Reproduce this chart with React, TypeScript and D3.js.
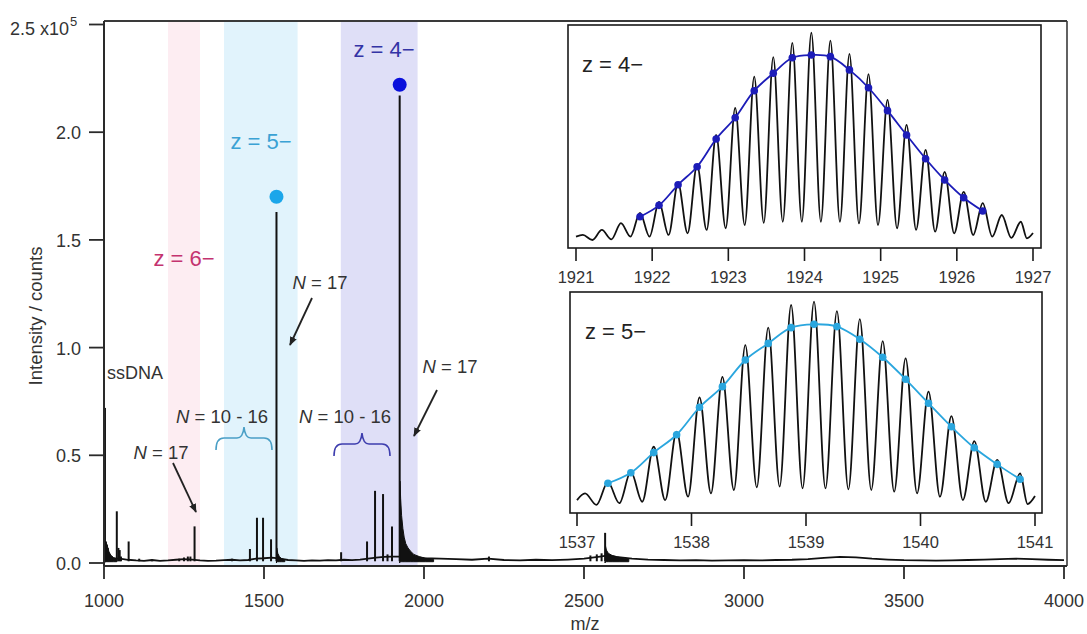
import React from "react";
import * as d3 from "d3";

const W = 1087;
const H = 634;
const FONT = "'Liberation Sans', Arial, Helvetica, sans-serif";

// ---------- main spectrum data (intensity in units of 1e5 counts) ----------
const mainXTicks = [1000, 1500, 2000, 2500, 3000, 3500, 4000];
const mainYTicks = [0, 0.5, 1.0, 1.5, 2.0];
const mainYTickLabels = ["0.0", "0.5", "1.0", "1.5", "2.0"];
const mainYTopTick = 2.5;

const bandRanges: [number, number][] = [
  [1200, 1300],
  [1375, 1605],
  [1740, 1980],
];

const baseline: [number, number][] = [
  [1000, 0.03], [1025, 0.02], [1050, 0.02], [1075, 0.015], [1100, 0.012], [1125, 0.01],
  [1150, 0.014], [1175, 0.01], [1200, 0.012], [1225, 0.015], [1250, 0.018], [1275, 0.016],
  [1300, 0.012], [1325, 0.01], [1350, 0.011], [1375, 0.013], [1400, 0.015], [1425, 0.012],
  [1450, 0.014], [1475, 0.02], [1500, 0.022], [1525, 0.025], [1550, 0.02], [1575, 0.014],
  [1600, 0.012], [1625, 0.01], [1650, 0.012], [1675, 0.011], [1700, 0.013], [1725, 0.012],
  [1750, 0.015], [1775, 0.013], [1800, 0.016], [1825, 0.02], [1850, 0.025], [1875, 0.028],
  [1900, 0.03], [1950, 0.03], [1975, 0.025], [2000, 0.022], [2050, 0.02], [2100, 0.018],
  [2150, 0.015], [2200, 0.02], [2250, 0.014], [2300, 0.012], [2350, 0.015], [2400, 0.013],
  [2450, 0.016], [2500, 0.02], [2525, 0.025], [2550, 0.03], [2575, 0.035], [2600, 0.028],
  [2650, 0.02], [2700, 0.016], [2750, 0.014], [2800, 0.012], [2850, 0.013], [2900, 0.011],
  [2950, 0.012], [3000, 0.013], [3050, 0.012], [3100, 0.014], [3150, 0.015], [3200, 0.018],
  [3250, 0.024], [3300, 0.028], [3350, 0.026], [3400, 0.02], [3450, 0.016], [3500, 0.013],
  [3550, 0.012], [3600, 0.011], [3650, 0.012], [3700, 0.014], [3750, 0.016], [3800, 0.018],
  [3850, 0.02], [3900, 0.018], [3950, 0.015], [4000, 0.013],
];

const mainPeaks: [number, number][] = [
  [1003, 0.72], [1006, 0.1], [1009, 0.085], [1012, 0.07], [1015, 0.05], [1019, 0.035],
  [1024, 0.03], [1040, 0.24], [1045, 0.07], [1049, 0.06], [1053, 0.03], [1077, 0.1],
  [1110, 0.02], [1150, 0.015], [1235, 0.02], [1250, 0.025], [1262, 0.03], [1270, 0.03],
  [1283, 0.17], [1400, 0.02], [1456, 0.065], [1478, 0.21], [1497, 0.21], [1522, 0.11],
  [1539, 1.63], [1741, 0.05], [1822, 0.1], [1847, 0.335], [1872, 0.32], [1886, 0.04],
  [1900, 0.17], [1924, 2.17], [2203, 0.03], [2520, 0.035], [2540, 0.04], [2555, 0.045],
  [2566, 0.14],
];

const tailSsDNA: [number, number][] = [
  [1002, 0.0], [1004, 0.1], [1008, 0.09], [1012, 0.07], [1016, 0.05], [1022, 0.035], [1030, 0.025], [1040, 0.02],
];
const tailZ5: [number, number][] = [
  [1539, 0.0], [1540, 0.07], [1543, 0.045], [1548, 0.03], [1555, 0.02], [1565, 0.015],
];
const tailZ4: [number, number][] = [
  [1924, 0.0], [1925, 0.38], [1927, 0.3], [1930, 0.22], [1934, 0.16], [1938, 0.12], [1943, 0.09],
  [1950, 0.07], [1958, 0.055], [1968, 0.04], [1985, 0.03], [2005, 0.022], [2030, 0.016],
];
const tail2566: [number, number][] = [
  [2566, 0.0], [2567, 0.08], [2570, 0.06], [2576, 0.045], [2588, 0.035], [2610, 0.026], [2640, 0.02],
];

const apexDots: [number, number][] = [
  [1539, 1.7],
  [1924, 2.22],
];

// ---------- inset z = 4- ----------
const inset1Ticks = [1921, 1922, 1923, 1924, 1925, 1926, 1927];
const inset1PeakMz = [
  1921.09, 1921.34, 1921.59, 1921.84, 1922.09, 1922.34, 1922.59, 1922.84, 1923.09, 1923.34,
  1923.59, 1923.84, 1924.09, 1924.34, 1924.59, 1924.84, 1925.09, 1925.34, 1925.59, 1925.84,
  1926.09, 1926.34, 1926.59, 1926.84,
];
const inset1Tips = [
  0.024, 0.048, 0.08, 0.129, 0.181, 0.271, 0.357, 0.5, 0.629, 0.778, 0.871, 0.939, 0.987,
  0.949, 0.886, 0.79, 0.667, 0.548, 0.429, 0.324, 0.229, 0.176, 0.119, 0.087,
];
const inset1Valleys = [
  0.0, 0.003, 0.016, 0.016, 0.024, 0.032, 0.048, 0.056, 0.071, 0.082, 0.087, 0.087, 0.087,
  0.087, 0.079, 0.071, 0.056, 0.048, 0.04, 0.032, 0.024, 0.016, 0.01, 0.008,
];
const inset1Start: [number, number] = [1921.0, 0.016];
const inset1End: [number, number] = [1927.0, 0.033];
const inset1DotMz = [
  1921.84, 1922.09, 1922.34, 1922.59, 1922.84, 1923.09, 1923.34, 1923.59, 1923.84, 1924.09,
  1924.34, 1924.59, 1924.84, 1925.09, 1925.34, 1925.59, 1925.84, 1926.09, 1926.34,
];
const inset1Dots = [
  0.111, 0.165, 0.263, 0.349, 0.481, 0.582, 0.711, 0.794, 0.868, 0.881, 0.873, 0.81, 0.725,
  0.616, 0.5, 0.387, 0.286, 0.201, 0.138,
];

// ---------- inset z = 5- ----------
const inset2Ticks = [1537, 1538, 1539, 1540, 1541];
const inset2PeakMz = [
  1537.07, 1537.27, 1537.47, 1537.67, 1537.87, 1538.07, 1538.27, 1538.47, 1538.67, 1538.87,
  1539.07, 1539.27, 1539.47, 1539.67, 1539.87, 1540.07, 1540.27, 1540.47, 1540.67, 1540.87,
];
const inset2Tips = [
  0.065, 0.118, 0.168, 0.287, 0.359, 0.522, 0.62, 0.771, 0.854, 0.962, 0.978, 0.933, 0.895,
  0.79, 0.708, 0.549, 0.433, 0.314, 0.224, 0.16,
];
const inset2Valleys = [
  0.01, 0.018, 0.025, 0.033, 0.049, 0.065, 0.081, 0.094, 0.097, 0.089, 0.089, 0.084, 0.081,
  0.073, 0.065, 0.049, 0.033, 0.025, 0.018, 0.014,
];
const inset2Start: [number, number] = [1537.0, 0.033];
const inset2End: [number, number] = [1541.0, 0.052];
const inset2DotMz = [
  1537.27, 1537.47, 1537.67, 1537.87, 1538.07, 1538.27, 1538.47, 1538.67, 1538.87, 1539.07,
  1539.27, 1539.47, 1539.67, 1539.87, 1540.07, 1540.27, 1540.47, 1540.67, 1540.87,
];
const inset2Dots = [
  0.113, 0.163, 0.259, 0.344, 0.475, 0.573, 0.7, 0.779, 0.854, 0.87, 0.859, 0.799, 0.713,
  0.608, 0.494, 0.382, 0.282, 0.203, 0.132,
];

type InsetProps = {
  frame: { x0: number; x1: number; y0: number; y1: number };
  xDomain: [number, number];
  xRange: [number, number];
  yRange: [number, number];
  ticks: number[];
  peakMz: number[];
  tips: number[];
  valleys: number[];
  start: [number, number];
  end: [number, number];
  dotMz: number[];
  dots: number[];
  color: string;
  label: string;
  labelPos: [number, number];
};

function Inset(p: InsetProps) {
  const x = d3.scaleLinear().domain(p.xDomain).range(p.xRange);
  const y = d3.scaleLinear().domain([0, 1]).range(p.yRange);
  const pts: [number, number][] = [p.start];
  p.peakMz.forEach((m, i) => {
    pts.push([m, p.tips[i]]);
    const next = i < p.peakMz.length - 1 ? p.peakMz[i + 1] : p.end[0];
    pts.push([(m + next) / 2, p.valleys[i]]);
  });
  pts.push(p.end);
  const trace = d3
    .line<[number, number]>()
    .x((d) => x(d[0]))
    .y((d) => y(d[1]))
    .curve(d3.curveMonotoneX)(pts);
  const dotPts: [number, number][] = p.dotMz.map((m, i) => [m, p.dots[i]]);
  const fit = d3
    .line<[number, number]>()
    .x((d) => x(d[0]))
    .y((d) => y(d[1]))
    .curve(d3.curveCatmullRom.alpha(0.5))(dotPts);
  const f = p.frame;
  return (
    <g>
      <rect x={f.x0} y={f.y0} width={f.x1 - f.x0} height={f.y1 - f.y0} fill="#fff" stroke="#1a1a1a" strokeWidth={1.6} />
      <path d={trace || ""} fill="none" stroke="#111" strokeWidth={1.8} />
      <path d={fit || ""} fill="none" stroke={p.color} strokeWidth={1.8} />
      {dotPts.map((d, i) => (
        <circle key={i} cx={x(d[0])} cy={y(d[1])} r={3.8} fill={p.color} />
      ))}
      {p.ticks.map((t) => (
        <g key={t}>
          <line x1={x(t)} x2={x(t)} y1={f.y1} y2={f.y1 + 13} stroke="#1a1a1a" strokeWidth={1.6} />
          <text x={x(t)} y={f.y1 + 35} textAnchor="middle" fontSize={16.5} fill="#333" fontFamily={FONT}>
            {t}
          </text>
        </g>
      ))}
      <text x={p.labelPos[0]} y={p.labelPos[1]} fontSize={22} fill="#222" fontFamily={FONT}>
        {p.label}
      </text>
    </g>
  );
}

export default function App() {
  const x = d3.scaleLinear().domain([1000, 4000]).range([104, 1064]);
  const y = d3.scaleLinear().domain([0, 2.5]).range([563, 24.5]);
  const left = 104;
  const right = 1067;
  const top = 21;
  const bottom = 566;

  const bandColors = ["#fdedf2", "#e1f3fc", "#dfdff7"];

  const baseLine = d3
    .line<[number, number]>()
    .x((d) => x(d[0]))
    .y((d) => y(d[1]))(baseline);
  const tailArea = d3
    .area<[number, number]>()
    .x((d) => x(d[0]))
    .y0(y(0.006))
    .y1((d) => y(d[1]));

  const textC = "#333";

  return (
    <svg
      width={W}
      height={H}
      viewBox={`0 0 ${W} ${H}`}
      style={{ position: "absolute", left: 0, top: 0, display: "block", background: "#fff" }}
    >
      <defs>
        <marker id="arr" viewBox="0 0 10 10" refX="9" refY="5" markerWidth="9" markerHeight="9" markerUnits="userSpaceOnUse" orient="auto">
          <path d="M0,1 L10,5 L0,9 z" fill="#222" />
        </marker>
      </defs>
      <rect x={0} y={0} width={W} height={H} fill="#fff" />

      {/* shaded charge-state bands */}
      {bandRanges.map((b, i) => (
        <rect key={i} x={x(b[0])} y={top} width={x(b[1]) - x(b[0])} height={bottom - top} fill={bandColors[i]} />
      ))}

      {/* spectrum */}
      <path d={baseLine || ""} fill="none" stroke="#111" strokeWidth={1.8} />
      {[tailSsDNA, tailZ5, tailZ4, tail2566].map((t, i) => (
        <path key={i} d={tailArea(t) || ""} fill="#111" stroke="#111" strokeWidth={1} />
      ))}
      {mainPeaks.map((p, i) => (
        <line key={i} x1={x(p[0])} x2={x(p[0])} y1={y(0.008)} y2={y(p[1])} stroke="#111" strokeWidth={2} />
      ))}
      <circle cx={x(apexDots[0][0])} cy={y(apexDots[0][1])} r={7} fill="#1ba6ea" />
      <circle cx={x(apexDots[1][0])} cy={y(apexDots[1][1])} r={7} fill="#0a10dc" />

      {/* frame and axes */}
      <line x1={left} x2={right} y1={top} y2={top} stroke="#3a3a3a" strokeWidth={2} />
      <line x1={right} x2={right} y1={top} y2={bottom} stroke="#3a3a3a" strokeWidth={1.6} />
      <line x1={left} x2={right} y1={bottom} y2={bottom} stroke="#2a2a2a" strokeWidth={1.8} />
      <line x1={left} x2={left} y1={top} y2={bottom} stroke="#2a2a2a" strokeWidth={2} />

      {mainYTicks.map((t, i) => (
        <g key={t}>
          <line x1={89} x2={left} y1={y(t)} y2={y(t)} stroke="#2a2a2a" strokeWidth={1.8} />
          <text x={81} y={y(t) + 7} textAnchor="end" fontSize={18} fill={textC} fontFamily={FONT}>
            {mainYTickLabels[i]}
          </text>
        </g>
      ))}
      <line x1={89} x2={left} y1={y(mainYTopTick)} y2={y(mainYTopTick)} stroke="#2a2a2a" strokeWidth={1.8} />
      <text x={10} y={35} fontSize={18} fill={textC} fontFamily={FONT}>
        2.5 x10
      </text>
      <text x={70} y={26} fontSize={13} fill={textC} fontFamily={FONT}>
        5
      </text>

      {mainXTicks.map((t) => (
        <g key={t}>
          <line x1={x(t)} x2={x(t)} y1={bottom} y2={bottom + 13} stroke="#2a2a2a" strokeWidth={1.8} />
          <text x={x(t)} y={607} textAnchor="middle" fontSize={18} fill={textC} fontFamily={FONT}>
            {t}
          </text>
        </g>
      ))}
      <text x={585} y={630} textAnchor="middle" fontSize={18} fill={textC} fontFamily={FONT}>
        m/z
      </text>
      <text transform="translate(42,316) rotate(-90)" textAnchor="middle" fontSize={18.5} fill={textC} fontFamily={FONT}>
        Intensity / counts
      </text>

      {/* charge-state labels */}
      <text x={184} y={266} textAnchor="middle" fontSize={22} fill="#c4336f" fontFamily={FONT}>
        z = 6−
      </text>
      <text x={261} y={149} textAnchor="middle" fontSize={22} fill="#3aa2d4" fontFamily={FONT}>
        z = 5−
      </text>
      <text x={384} y={57} textAnchor="middle" fontSize={22} fill="#3434a6" fontFamily={FONT}>
        z = 4−
      </text>

      <text x={107} y={379} fontSize={18} fill={textC} fontFamily={FONT}>
        ssDNA
      </text>

      {/* N annotations */}
      <text x={161} y={459} textAnchor="middle" fontSize={18.5} fill={textC} fontFamily={FONT}>
        <tspan fontStyle="italic">N</tspan> = 17
      </text>
      <line x1={173} y1={463} x2={196} y2={512} stroke="#222" strokeWidth={1.8} markerEnd="url(#arr)" />

      <text x={320} y={289} textAnchor="middle" fontSize={18.5} fill={textC} fontFamily={FONT}>
        <tspan fontStyle="italic">N</tspan> = 17
      </text>
      <line x1={312} y1={298} x2={290} y2={345} stroke="#222" strokeWidth={1.8} markerEnd="url(#arr)" />

      <text x={450} y={373} textAnchor="middle" fontSize={18.5} fill={textC} fontFamily={FONT}>
        <tspan fontStyle="italic">N</tspan> = 17
      </text>
      <line x1={437} y1={390} x2={414} y2={436} stroke="#222" strokeWidth={1.8} markerEnd="url(#arr)" />

      <text x={222} y={423} textAnchor="middle" fontSize={18.5} fill={textC} fontFamily={FONT}>
        <tspan fontStyle="italic">N</tspan> = 10 - 16
      </text>
      <path
        d="M216,450 Q216,438 224,438 L237,438 Q243,438 244,427 Q245,438 251,438 L264,438 Q272,438 272,450"
        fill="none"
        stroke="#4a9fc6"
        strokeWidth={1.6}
      />
      <text x={345} y={423} textAnchor="middle" fontSize={18.5} fill={textC} fontFamily={FONT}>
        <tspan fontStyle="italic">N</tspan> = 10 - 16
      </text>
      <path
        d="M334,456 Q334,444 342,444 L355,444 Q361,444 362,433 Q363,444 369,444 L382,444 Q390,444 390,456"
        fill="none"
        stroke="#3e3eae"
        strokeWidth={1.6}
      />

      {/* insets */}
      <Inset
        frame={{ x0: 568, x1: 1041, y0: 25, y1: 248 }}
        xDomain={[1921, 1927]}
        xRange={[576, 1033]}
        yRange={[240, 30]}
        ticks={inset1Ticks}
        peakMz={inset1PeakMz}
        tips={inset1Tips}
        valleys={inset1Valleys}
        start={inset1Start}
        end={inset1End}
        dotMz={inset1DotMz}
        dots={inset1Dots}
        color="#1c1cb8"
        label="z = 4−"
        labelPos={[582, 72]}
      />
      <Inset
        frame={{ x0: 570, x1: 1042, y0: 292, y1: 513 }}
        xDomain={[1537, 1541]}
        xRange={[577, 1035]}
        yRange={[507, 297]}
        ticks={inset2Ticks}
        peakMz={inset2PeakMz}
        tips={inset2Tips}
        valleys={inset2Valleys}
        start={inset2Start}
        end={inset2End}
        dotMz={inset2DotMz}
        dots={inset2Dots}
        color="#2aa6de"
        label="z = 5−"
        labelPos={[585, 339]}
      />
    </svg>
  );
}
